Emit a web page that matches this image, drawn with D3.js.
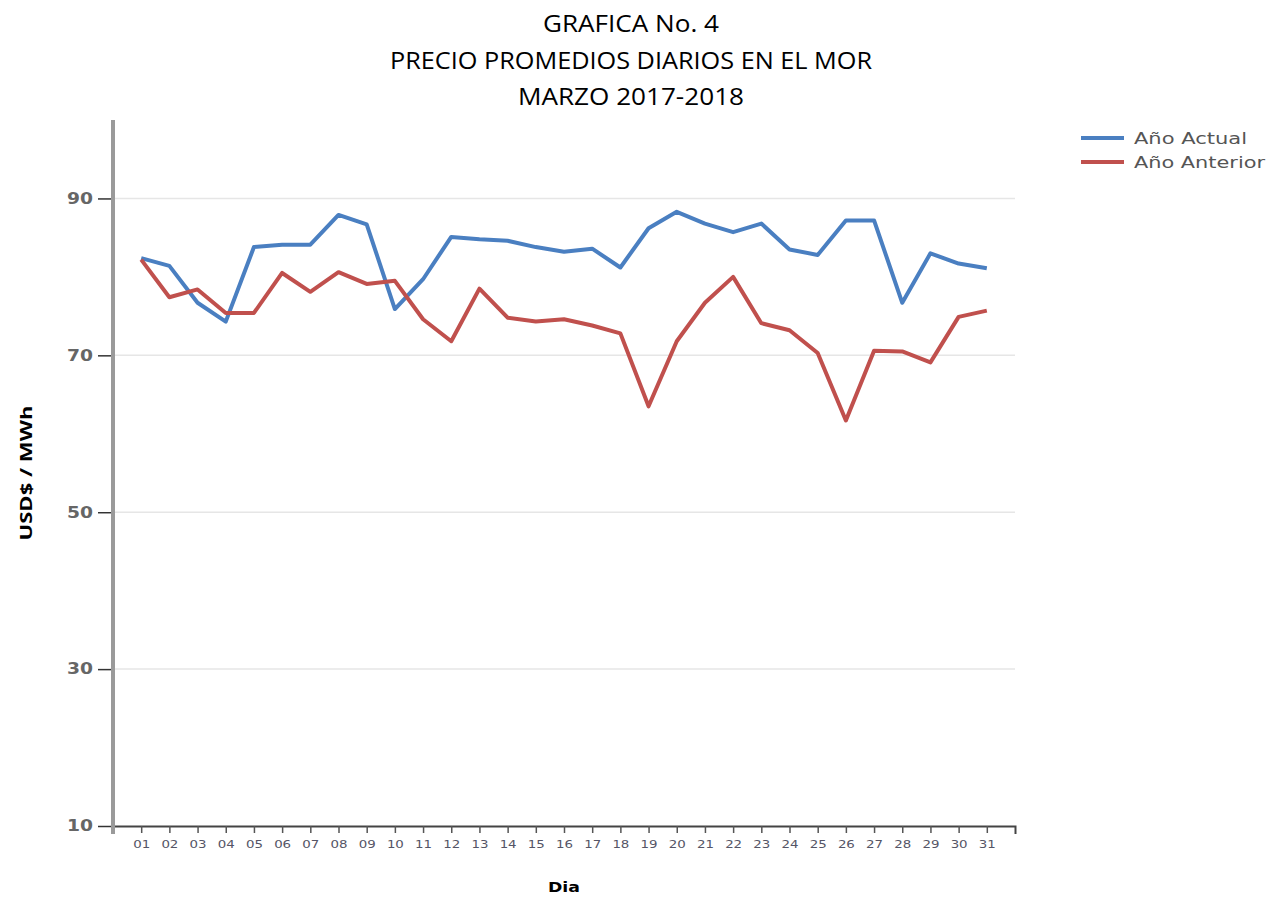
<!DOCTYPE html>
<meta charset="utf-8">
<script src="https://d3js.org/d3.v7.min.js"></script>
<style>

body {
    margin: 0;
    background: #fff;
}

.line {
    fill: none;
    stroke-width: 4px;
    stroke-linejoin: round;
}

.grid line {
    stroke: #e6e6e6;
    stroke-width: 1.5px;
}

</style>
<body>
<div id="chart"></div>
<script>
// data (USD$ / MWh per day, march)
var days = ['01','02','03','04','05','06','07','08','09','10','11','12','13','14','15','16',
            '17','18','19','20','21','22','23','24','25','26','27','28','29','30','31'];
var anoActual = [82.4, 81.4, 76.7, 74.3, 83.8, 84.1, 84.1, 87.9, 86.7, 75.9, 79.7, 85.1, 84.8, 84.6, 83.8, 83.2,
                 83.6, 81.2, 86.2, 88.3, 86.8, 85.7, 86.8, 83.5, 82.8, 87.2, 87.2, 76.7, 83.0, 81.7, 81.1];
var anoAnterior = [82.2, 77.4, 78.4, 75.4, 75.4, 80.5, 78.1, 80.6, 79.1, 79.5, 74.6, 71.8, 78.5, 74.8, 74.3, 74.6,
                   73.8, 72.8, 63.5, 71.8, 76.7, 80.0, 74.1, 73.2, 70.3, 61.7, 70.6, 70.5, 69.1, 74.9, 75.7];
var yTicks = [10, 30, 50, 70, 90];
var seriesNames = ['Año Actual', 'Año Anterior'];
var titleLines = ['GRAFICA No. 4', 'PRECIO PROMEDIOS DIARIOS EN EL MOR', 'MARZO 2017-2018'];

var groupColor = ['#4a7fc1', '#c0504d'];

// svg size
var W = 1277, H = 897;
var margin = {left: 113, right: 1015, top: 120, bottom: 826};

var svg = d3.select('#chart')
    .append('svg')
    .attr('width', W)
    .attr('height', H);

// scales
var xscale = d3.scalePoint()
    .domain(days)
    .range([margin.left, margin.right])
    .padding(1);

var yscale = d3.scaleLinear()
    .domain([10, 100])
    .range([margin.bottom, margin.top]);

// gridlines
svg.append('g')
    .attr('class', 'grid')
    .selectAll('line')
    .data(yTicks.filter(function(d) { return d > 10; }))
    .enter()
    .append('line')
    .attr('x1', margin.left)
    .attr('x2', margin.right)
    .attr('y1', function(d) { return yscale(d); })
    .attr('y2', function(d) { return yscale(d); });

// y axis
var yaxis = d3.axisLeft()
    .scale(yscale)
    .tickValues(yTicks)
    .tickSize(15)
    .tickPadding(5)
    .tickSizeOuter(0);

var gy = svg.append('g')
    .attr('transform', 'translate(' + margin.left + ',0)')
    .call(yaxis);
gy.select('.domain').remove();
gy.selectAll('line').attr('stroke', '#333').attr('stroke-width', 1.5);
gy.selectAll('text')
    .attr('textLength', 26)
    .attr('lengthAdjust', 'spacingAndGlyphs')
    .style('font', '15px "DejaVu Sans"')
    .style('font-weight', 'bold')
    .attr('fill', '#666');

// x axis
var xaxis = d3.axisBottom()
    .scale(xscale)
    .tickSize(7)
    .tickSizeOuter(8)
    .tickPadding(8);

var gx = svg.append('g')
    .attr('transform', 'translate(0,' + margin.bottom + ')')
    .call(xaxis);
gx.select('.domain').attr('stroke', '#444').attr('stroke-width', 2);
gx.selectAll('line').attr('stroke', '#555').attr('stroke-width', 1.5);
gx.selectAll('text')
    .attr('textLength', 17)
    .attr('lengthAdjust', 'spacingAndGlyphs')
    .style('font', '10.5px "DejaVu Sans"')
    .attr('fill', '#556');

// y axis line (thick gray)
svg.append('line')
    .attr('x1', margin.left)
    .attr('x2', margin.left)
    .attr('y1', margin.top)
    .attr('y2', margin.bottom + 8)
    .attr('stroke', '#9a9a9a')
    .attr('stroke-width', 4);

// lines
var line = d3.line()
    .x(function(d, i) { return xscale(days[i]); })
    .y(function(d) { return yscale(d); });

[anoActual, anoAnterior].forEach(function(data, i) {
    svg.append('path')
        .datum(data)
        .attr('class', 'line')
        .style('stroke', groupColor[i])
        .attr('d', line);
});

// legend
var legendWidths = [113, 131];
var legend = svg.selectAll('.legend')
    .data(seriesNames)
    .enter()
    .append('g')
    .attr('class', 'legend')
    .attr('transform', function(d, i) { return 'translate(1081,' + (138 + i * 24) + ')'; });

legend.append('line')
    .attr('x1', 0)
    .attr('x2', 43)
    .attr('stroke', function(d, i) { return groupColor[i]; })
    .attr('stroke-width', 4);

legend.append('text')
    .attr('x', 53)
    .attr('y', 6)
    .attr('textLength', function(d, i) { return legendWidths[i]; })
    .attr('lengthAdjust', 'spacingAndGlyphs')
    .style('font', '16px "DejaVu Sans"')
    .attr('fill', '#555')
    .text(function(d) { return d; });

// title
var titleWidths = [176, 482, 226];
svg.selectAll('.title')
    .data(titleLines)
    .enter()
    .append('text')
    .attr('class', 'title')
    .attr('text-anchor', 'middle')
    .attr('x', 631)
    .attr('y', function(d, i) { return 32 + i * 36.5; })
    .attr('textLength', function(d, i) { return titleWidths[i]; })
    .attr('lengthAdjust', 'spacingAndGlyphs')
    .style('font', '23px "Open Sans"')
    .attr('fill', '#000')
    .text(function(d) { return d; });

// axis labels
svg.append('text')
    .text('Dia')
    .attr('text-anchor', 'middle')
    .attr('x', 564)
    .attr('y', 892)
    .attr('textLength', 32)
    .attr('lengthAdjust', 'spacingAndGlyphs')
    .style('font', 'bold 14px "DejaVu Sans"')
    .attr('fill', '#000');

svg.append('text')
    .text('USD$ / MWh')
    .attr('transform', 'rotate(-90)')
    .attr('text-anchor', 'middle')
    .attr('x', -473)
    .attr('y', 32)
    .attr('textLength', 135)
    .attr('lengthAdjust', 'spacingAndGlyphs')
    .style('font', 'bold 16px "Open Sans"')
    .attr('fill', '#000');
</script>
</body>
</html>
